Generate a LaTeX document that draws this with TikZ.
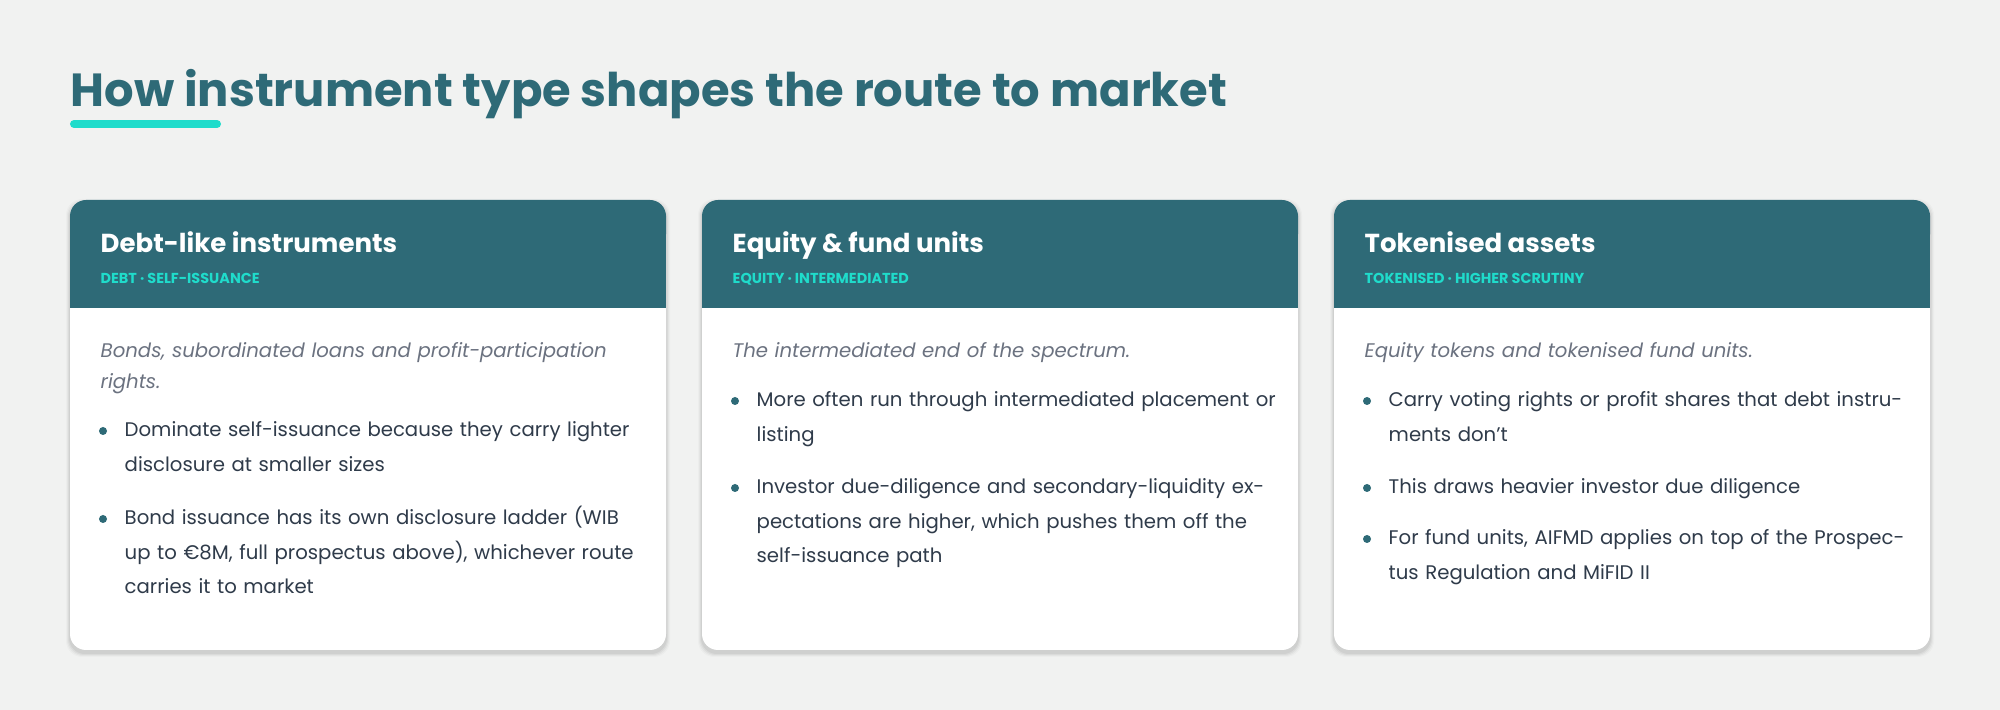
\documentclass[tikz,border=0pt]{standalone}
\usepackage{fontspec}
\setmainfont{Poppins}
\definecolor{bg}{HTML}{F1F2F1}
\definecolor{teal}{HTML}{2E6A77}
\definecolor{cyanx}{HTML}{1FDCCB}
\definecolor{body}{HTML}{2F3B4A}
\definecolor{muted}{HTML}{6B7280}
\begin{document}
\begin{tikzpicture}[x=0.01cm,y=-0.01cm,
  htitle/.style={anchor=base west,inner sep=0,text=white,font=\fontsize{7.4pt}{9pt}\selectfont\bfseries},
  tag/.style={anchor=base west,inner sep=0,text=cyanx,font=\fontsize{4.1pt}{5pt}\selectfont\bfseries},
  intro/.style={anchor=base west,inner sep=0,text=muted,text width=5.5cm,align=left,font=\fontsize{5.6pt}{8.55pt}\selectfont\itshape},
  item/.style={anchor=base west,inner sep=0,text=body,text width=5.3cm,align=left,font=\fontsize{5.6pt}{9.7pt}\selectfont},
  dot/.style={circle,fill=teal,inner sep=0,minimum size=0.08cm}]
\fill[bg] (0,0) rectangle (2000,710);
\node[anchor=base west,inner sep=0,text=teal,font=\fontsize{13.2pt}{15pt}\selectfont\bfseries] (title) at (70,107) {How instrument type shapes the route to market};
\draw[cyanx,line width=0.08cm,line cap=round] (74,124) -- (217,124);
\foreach \x/\n in {70/a,702/b,1334/c}{
  \foreach \i/\o in {1/0.05,2/0.04,3/0.03,4/0.02}
    \fill[black,opacity=\o,rounded corners=0.16cm] (\x-\i,200-\i+3) rectangle (\x+596+\i,650+\i+3);
  \fill[white,rounded corners=0.16cm] (\x,200) rectangle (\x+596,650);
  \fill[teal,rounded corners=0.16cm] (\x,200) rectangle (\x+596,250);
  \fill[teal] (\x,230) rectangle (\x+596,308);
}
% card 1
\node[htitle] (t1) at (100,253) {Debt-like instruments};
\node[tag] (g1) at (100,284) {DEBT · SELF-ISSUANCE};
\node[intro] (i1) at (100,358) {Bonds, subordinated loans and profit-participation rights.};
\node[item] (a1) at (124,437) {Dominate self-issuance because they carry lighter disclosure at smaller sizes};
\node[item] (a2) at (124,525) {Bond issuance has its own disclosure ladder (WIB up to €8M, full prospectus above), whichever route carries it to market};
\node[dot] (d1) at (103,431) {}; \node[dot] (d2) at (103,519) {};
% card 2
\node[htitle] (t2) at (732,253) {Equity \& fund units};
\node[tag] (g2) at (732,284) {EQUITY · INTERMEDIATED};
\node[intro] (i2) at (732,358) {The intermediated end of the spectrum.};
\node[item] (b1) at (756,407) {More often run through intermediated placement or listing};
\node[item] (b2) at (756,494) {Investor due-diligence and secondary-liquidity expectations are higher, which pushes them off the self-issuance path};
\node[dot] (e1) at (735,401) {}; \node[dot] (e2) at (735,488) {};
% card 3
\node[htitle] (t3) at (1364,253) {Tokenised assets};
\node[tag] (g3) at (1364,284) {TOKENISED · HIGHER SCRUTINY};
\node[intro] (i3) at (1364,358) {Equity tokens and tokenised fund units.};
\node[item] (c1) at (1388,407) {Carry voting rights or profit shares that debt instruments don't};
\node[item] (c2) at (1388,494) {This draws heavier investor due diligence};
\node[item] (c3) at (1388,545) {For fund units, AIFMD applies on top of the Prospectus Regulation and MiFID II};
\node[dot] (f1) at (1367,401) {}; \node[dot] (f2) at (1367,488) {}; \node[dot] (f3) at (1367,539) {};
\end{tikzpicture}
\end{document}
